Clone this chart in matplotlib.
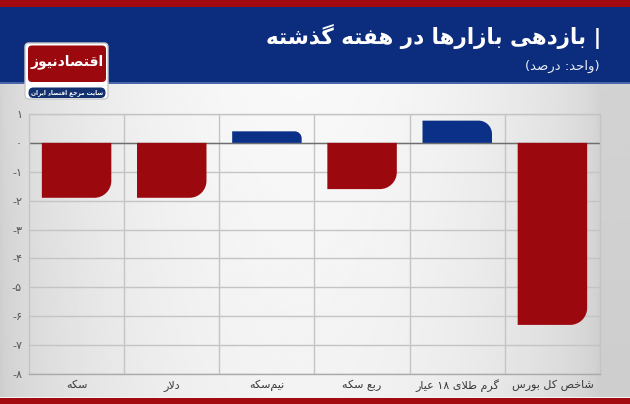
import re
import numpy as np
import matplotlib
matplotlib.use('Agg')
import matplotlib.pyplot as plt
from matplotlib.path import Path
from matplotlib.patches import PathPatch, FancyBboxPatch, Rectangle

# data
categories = ['سکه', 'دلار', 'نیم\u200cسکه', 'ربع سکه', 'گرم طلای ۱۸ عیار', 'شاخص کل بورس']
values = [-1.9, -1.9, 0.4, -1.6, 0.77, -6.3]
yticks = [1, 0, -1, -2, -3, -4, -5, -6, -7, -8]
title = '| بازدهی بازارها در هفته گذشته'
subtitle = '(واحد: درصد)'
logo_name = 'اقتصادنیوز'
logo_tag = 'سایت مرجع اقتصاد ایران'

red = '#9b080e'
blue = '#0a3087'
header_blue = '#0c2d7d'

# --- tiny arabic/persian shaper (matplotlib has no shaping) ---
# isolated, final, initial, medial
FORMS = {
    'ا': ('\uFE8D', '\uFE8E', None, None),
    'ب': ('\uFE8F', '\uFE90', '\uFE91', '\uFE92'),
    'پ': ('\uFB56', '\uFB57', '\uFB58', '\uFB59'),
    'ت': ('\uFE95', '\uFE96', '\uFE97', '\uFE98'),
    'ث': ('\uFE99', '\uFE9A', '\uFE9B', '\uFE9C'),
    'ج': ('\uFE9D', '\uFE9E', '\uFE9F', '\uFEA0'),
    'ح': ('\uFEA1', '\uFEA2', '\uFEA3', '\uFEA4'),
    'خ': ('\uFEA5', '\uFEA6', '\uFEA7', '\uFEA8'),
    'د': ('\uFEA9', '\uFEAA', None, None),
    'ذ': ('\uFEAB', '\uFEAC', None, None),
    'ر': ('\uFEAD', '\uFEAE', None, None),
    'ز': ('\uFEAF', '\uFEB0', None, None),
    'س': ('\uFEB1', '\uFEB2', '\uFEB3', '\uFEB4'),
    'ش': ('\uFEB5', '\uFEB6', '\uFEB7', '\uFEB8'),
    'ص': ('\uFEB9', '\uFEBA', '\uFEBB', '\uFEBC'),
    'ض': ('\uFEBD', '\uFEBE', '\uFEBF', '\uFEC0'),
    'ط': ('\uFEC1', '\uFEC2', '\uFEC3', '\uFEC4'),
    'ظ': ('\uFEC5', '\uFEC6', '\uFEC7', '\uFEC8'),
    'ع': ('\uFEC9', '\uFECA', '\uFECB', '\uFECC'),
    'غ': ('\uFECD', '\uFECE', '\uFECF', '\uFED0'),
    'ف': ('\uFED1', '\uFED2', '\uFED3', '\uFED4'),
    'ق': ('\uFED5', '\uFED6', '\uFED7', '\uFED8'),
    'ک': ('\uFB8E', '\uFB8F', '\uFB90', '\uFB91'),
    'گ': ('\uFB92', '\uFB93', '\uFB94', '\uFB95'),
    'ل': ('\uFEDD', '\uFEDE', '\uFEDF', '\uFEE0'),
    'م': ('\uFEE1', '\uFEE2', '\uFEE3', '\uFEE4'),
    'ن': ('\uFEE5', '\uFEE6', '\uFEE7', '\uFEE8'),
    'ه': ('\uFEE9', '\uFEEA', '\uFEEB', '\uFEEC'),
    'و': ('\uFEED', '\uFEEE', None, None),
    'ی': ('\uFBFC', '\uFBFD', '\uFBFE', '\uFBFF'),
}


def dual(c):
    return c in FORMS and FORMS[c][2] is not None


def shape(text):
    out = []
    chars = list(text)
    i = 0
    while i < len(chars):
        c = chars[i]
        if c == '\u200c':
            i += 1
            continue
        if c not in FORMS:
            out.append(c)
            i += 1
            continue
        prev = chars[i - 1] if i > 0 else ''
        pj = dual(prev)
        if c == 'ل' and i + 1 < len(chars) and chars[i + 1] == 'ا':
            out.append('\uFEFC' if pj else '\uFEFB')
            i += 2
            continue
        nxt = chars[i + 1] if i + 1 < len(chars) else ''
        nj = dual(c) and nxt in FORMS
        f = FORMS[c]
        if pj and nj:
            out.append(f[3])
        elif pj:
            out.append(f[1])
        elif nj:
            out.append(f[2])
        else:
            out.append(f[0])
        i += 1
    return ''.join(out)


def fa(text):
    toks = re.findall(r'[0-9\u06F0-\u06F9]+|.', shape(text))[::-1]
    mirror = {'(': ')', ')': '('}
    return ''.join(mirror.get(t, t) for t in toks)


def fa_num(n):
    s = str(abs(n)).translate(str.maketrans('0123456789', '۰۱۲۳۴۵۶۷۸۹'))
    return '-' + s if n < 0 else s


W, H = 630, 404
fig = plt.figure(figsize=(6.3, 4.04), dpi=100)

# background in pixel coordinates
bg = fig.add_axes([0, 0, 1, 1])
bg.set_xlim(0, W)
bg.set_ylim(H, 0)
bg.axis('off')
xs = np.linspace(0, 1, 300)
prof = 0.83 + 0.15 * np.clip(np.sin(np.pi * np.clip(xs * 1.05, 0, 1)) ** 0.6, 0, 1)
ys = np.linspace(0, 1, 150)
vert = 1 - 0.03 * ys
grad = np.outer(vert, prof)
bg.imshow(np.clip(grad, 0, 1), cmap='gray', vmin=0, vmax=1, extent=[0, W, H, 0], aspect='auto')
bg.add_patch(Rectangle((0, 0), W, 7, color='#a30a10', lw=0))
bg.add_patch(Rectangle((0, 7), W, 76, color=header_blue, lw=0))
bg.add_patch(Rectangle((0, 82), W, 1.5, color='#4a66a8', lw=0))
bg.add_patch(Rectangle((0, 398), W, 6, color='#a30a10', lw=0))
bg.add_patch(Rectangle((0, 396.5), W, 1.5, color='#f4f4f4', lw=0))

bg.text(601, 36, fa(title), color='white', fontsize=15.5, fontweight='bold',
        ha='right', va='center', family='DejaVu Sans')
bg.text(600, 66, fa(subtitle), color='#e8ecf5', fontsize=9.5,
        ha='right', va='center', family='DejaVu Sans')

# logo
bg.add_patch(FancyBboxPatch((25, 43), 83, 56, boxstyle='round,pad=0,rounding_size=4',
                            fc='white', ec='#c8c8c8', lw=1))
bg.add_patch(FancyBboxPatch((28, 45.5), 78, 36.5, boxstyle='round,pad=0,rounding_size=4',
                            fc=red, ec='none'))
bg.add_patch(FancyBboxPatch((28.5, 87.5), 77, 10.5, boxstyle='round,pad=0,rounding_size=5',
                            fc='#13306f', ec='none'))
bg.text(67, 62, fa(logo_name), color='white', fontsize=10, fontweight='bold',
        ha='center', va='center', family='DejaVu Sans')
bg.text(67, 92.8, fa(logo_tag), color='white', fontsize=4.2, fontweight='bold',
        ha='center', va='center', family='DejaVu Sans')

# chart
left, right, top, bottom = 29, 600, 114, 374
ax = fig.add_axes([left / W, 1 - bottom / H, (right - left) / W, (bottom - top) / H])
ax.set_facecolor('none')
ax.set_xlim(-0.5, len(categories) - 0.5)
ax.set_ylim(-8, 1)

ppx = (right - left) / len(categories)
ppy = (bottom - top) / 9.0
bw = 0.73
k = 0.5523
for i, v in enumerate(values):
    x0, x1 = i - bw / 2, i + bw / 2
    hpx = abs(v) * ppy
    rpx = min(17, 0.6 * hpx)
    rx, ry = rpx / ppx, rpx / ppy
    s = 1 if v > 0 else -1
    verts = [(x0, 0), (x1, 0), (x1, v - s * ry),
             (x1, v - s * ry * (1 - k)), (x1 - rx * (1 - k), v), (x1 - rx, v),
             (x0, v), (x0, 0)]
    codes = [Path.MOVETO, Path.LINETO, Path.LINETO,
             Path.CURVE4, Path.CURVE4, Path.CURVE4,
             Path.LINETO, Path.CLOSEPOLY]
    ax.add_patch(PathPatch(Path(verts, codes), fc=blue if v > 0 else red, ec='none', zorder=3))

ax.set_yticks(yticks)
ax.set_yticklabels([fa_num(t) for t in yticks], family='DejaVu Sans')
ax.set_xticks(range(len(categories)))
ax.set_xticklabels([fa(c) for c in categories], family='DejaVu Sans')
ax.set_xticks(np.arange(0.5, len(categories) - 0.5, 1), minor=True)
ax.grid(axis='y', which='major', color='#c4c4c4', lw=1, zorder=1)
ax.grid(axis='x', which='minor', color='#c4c4c4', lw=1, zorder=1)
ax.axhline(0, color='#6e6e6e', lw=1, zorder=2)
ax.tick_params(axis='both', which='both', length=0)
ax.tick_params(axis='x', labelsize=8, labelcolor='#3a3a3a', pad=4)
ax.tick_params(axis='y', labelsize=8, labelcolor='#555555', pad=5)
for sp in ax.spines.values():
    sp.set_color('#c4c4c4')
    sp.set_linewidth(1)
ax.spines['bottom'].set_color('#aaaaaa')

fig.savefig('out.png', dpi=100)
